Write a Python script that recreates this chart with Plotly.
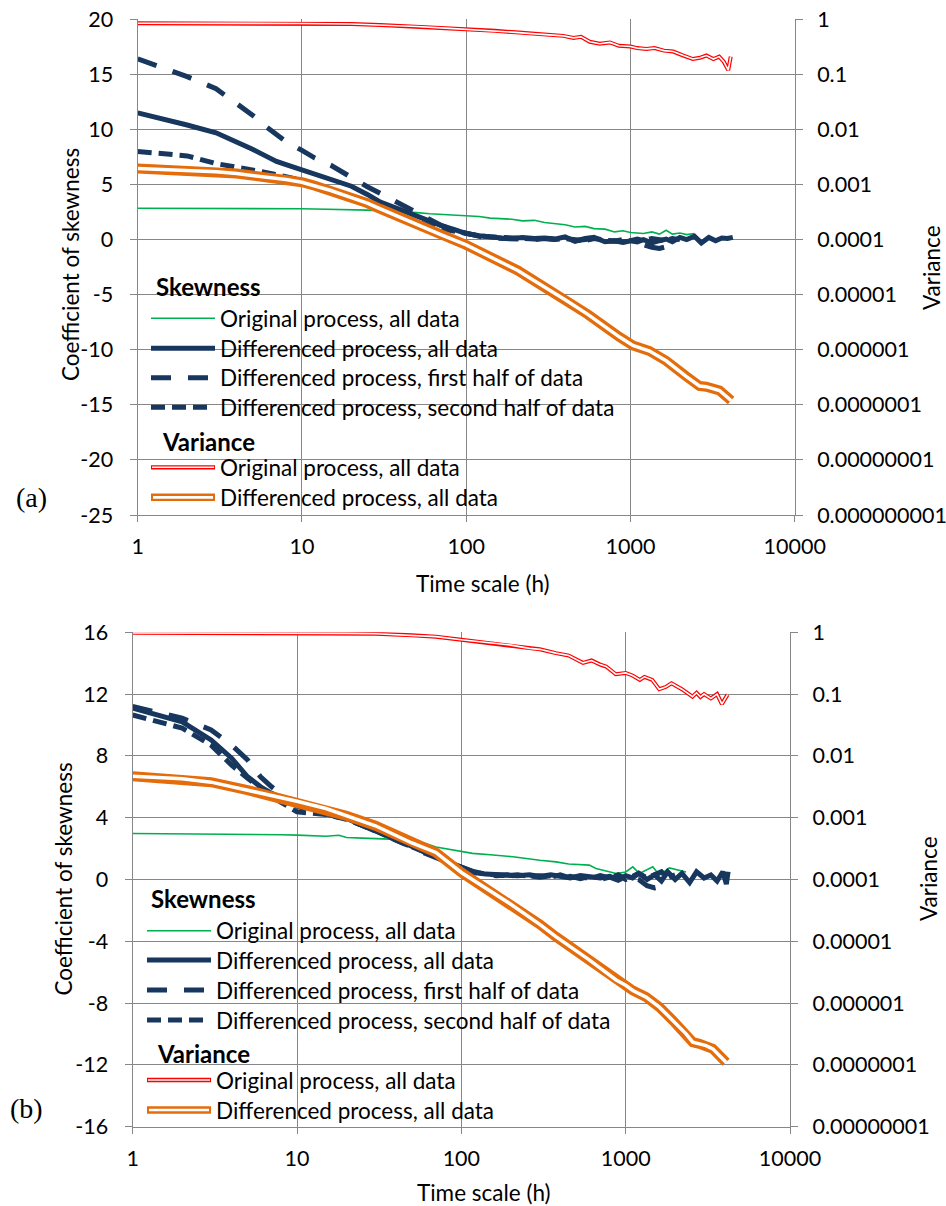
import plotly.graph_objects as go

W, H = 946, 1206

NAVY = "#17375E"
GREEN = "#00B050"
RED = "#FF0000"
ORANGE = "#E46C0A"
GRID = "#878787"
FONT = "Lato"

# ---------------- Panel (a) ----------------
# Skewness, original process, all data
a_green_x = [1, 1.5, 2, 3, 4, 5, 6, 7, 8, 10, 12, 15, 20, 25, 30, 40, 50, 60, 70, 85,
             100, 120, 140, 165, 190, 220, 260, 300, 350, 400, 460, 530, 600, 700, 800,
             900, 1000, 1100, 1200, 1350, 1500, 1650, 1800, 2000, 2200, 2450]
a_green_y = [2.85, 2.85, 2.84, 2.84, 2.83, 2.83, 2.82, 2.82, 2.81, 2.80, 2.78, 2.76, 2.72,
             2.68, 2.62, 2.55, 2.45, 2.35, 2.30, 2.25, 2.15, 2.10, 1.95, 1.90, 1.85, 1.70,
             1.75, 1.55, 1.45, 1.35, 1.15, 1.20, 1.00, 0.95, 0.70, 0.80, 0.65, 0.60, 0.55,
             0.70, 0.50, 0.85, 0.50, 0.60, 0.45, 0.55]

# Skewness, differenced process, all data
a_diff_x = [1, 1.5, 2, 3, 4, 5, 6, 7, 8, 10, 12, 15, 20, 25, 30, 40, 50, 60, 70, 85,
            100, 120, 140, 165, 190, 220, 260, 300, 350, 400, 460, 530, 600, 700, 800,
            900, 1000, 1100, 1200, 1350, 1500, 1650, 1800, 2000, 2200, 2450, 2700, 3000,
            3300, 3600, 3900, 4200]
a_diff_y = [11.5, 10.9, 10.4, 9.7, 8.9, 8.2, 7.6, 7.1, 6.8, 6.3, 5.9, 5.5, 4.85, 4.1, 3.4,
            2.7, 2.1, 1.65, 1.3, 0.9, 0.55, 0.35, 0.2, 0.15, 0.1, 0.2, 0.1, 0.15, 0.05,
            0.25, -0.15, 0.1, 0.2, -0.2, -0.1, -0.25, -0.1, -0.2, 0.0, -0.3, -0.1, 0.05,
            -0.2, 0.2, 0.0, 0.3, -0.3, 0.2, -0.1, 0.15, 0.1, 0.2]

# Skewness, differenced process, first half of data
a_first_x = [1, 1.5, 2, 3, 4, 5, 6, 7, 8, 10, 12, 15, 20, 25, 30, 40, 50, 60, 70, 85,
             100, 120, 140, 165, 190, 220, 260, 300, 350, 400, 460, 530, 600, 700, 800,
             900, 1000, 1100, 1200, 1350, 1500, 1650, 1800]
a_first_y = [16.4, 15.5, 14.8, 13.7, 12.4, 11.3, 10.3, 9.5, 8.9, 8.1, 7.4, 6.75, 5.6, 4.8,
             4.2, 3.2, 2.4, 1.8, 1.3, 0.85, 0.55, 0.3, 0.15, 0.1, 0.05, 0.1, 0.0, 0.1, 0.0,
             0.15, -0.1, 0.0, 0.1, -0.15, -0.1, -0.2, -0.15, -0.3, -0.5, -0.7, -0.8, -0.6,
             -0.5]

# Skewness, differenced process, second half of data
a_second_x = [1, 1.5, 2, 3, 4, 5, 6, 7, 8, 10, 12, 15, 20, 25, 30, 40, 50, 60, 70, 85,
              100, 120, 140, 165, 190, 220, 260, 300, 350, 400, 460, 530, 600, 700, 800,
              900, 1000, 1100, 1200, 1350, 1500, 1650, 1800, 2000]
a_second_y = [8.0, 7.8, 7.6, 6.9, 6.6, 6.3, 6.1, 5.9, 5.7, 5.4, 5.0, 4.4, 3.75, 3.1, 2.65,
              2.1, 1.6, 1.25, 1.0, 0.75, 0.55, 0.35, 0.25, 0.2, 0.1, 0.15, 0.05, 0.1, 0.0,
              0.1, 0.0, -0.1, 0.1, 0.0, -0.15, 0.0, -0.1, 0.05, -0.1, 0.1, 0.0, -0.1, 0.1,
              0.0]

# Variance, original process, all data
a_var_orig_x = [1, 3, 10, 20, 30, 50, 70, 100, 120, 150, 200, 250, 300, 390, 450, 500, 565,
                650, 750, 850, 1000, 1100, 1250, 1400, 1600, 1820, 2100, 2400, 2650, 2900,
                3200, 3470, 3700, 3940, 4080]
a_var_orig_y = [0.85, 0.85, 0.84, 0.82, 0.79, 0.74, 0.70, 0.66, 0.64, 0.62, 0.58, 0.55, 0.53,
                0.50, 0.46, 0.48, 0.39, 0.36, 0.38, 0.33, 0.32, 0.30, 0.29, 0.30, 0.27, 0.26,
                0.22, 0.19, 0.20, 0.22, 0.19, 0.21, 0.17, 0.12, 0.21]

# Variance, differenced process, all data
a_var_diff_x = [1, 2, 3, 4, 5, 6, 7, 8, 10, 12, 15, 20, 25, 30, 40, 50, 70, 100, 206, 405,
                550, 859, 1035, 1307, 1650, 2183, 2630, 2890, 3485, 4100]
a_var_diff_y = [1.95e-3, 1.82e-3, 1.70e-3, 1.58e-3, 1.46e-3, 1.38e-3, 1.29e-3, 1.23e-3,
                1.10e-3, 9.5e-4, 7.8e-4, 5.8e-4, 4.6e-4, 3.6e-4, 2.5e-4, 1.82e-4, 1.23e-4,
                8.0e-5, 2.75e-5, 7.9e-6, 4.4e-6, 1.70e-6, 1.20e-6, 9.5e-7, 6.3e-7, 3.3e-7,
                2.2e-7, 2.14e-7, 1.82e-7, 1.2e-7]

# ---------------- Panel (b) ----------------
b_green_x = [1, 1.5, 2, 3, 4, 5, 6, 7, 8, 10, 12, 15, 18, 20, 25, 30, 40, 50, 60, 70, 85,
             100, 117, 150, 206, 300, 377, 450, 600, 660, 876, 1000, 1105, 1213, 1462,
             1604, 1845, 2330]
b_green_y = [2.98, 2.97, 2.97, 2.96, 2.95, 2.94, 2.93, 2.92, 2.90, 2.87, 2.85, 2.80, 2.86,
             2.72, 2.68, 2.65, 2.60, 2.45, 2.35, 2.10, 1.95, 1.79, 1.69, 1.60, 1.47, 1.25,
             1.14, 1.00, 0.93, 0.71, 0.39, 0.49, 0.82, 0.39, 0.82, 0.28, 0.75, 0.49]

b_diff_x = [1, 1.5, 2, 3, 4, 5, 6, 7, 8, 10, 12, 15, 20, 25, 30, 40, 50, 60, 70, 85,
            100, 120, 140, 165, 190, 220, 260, 300, 350, 400, 460, 530, 600, 700, 800,
            900, 1000, 1100, 1200, 1350, 1500, 1650, 1800, 2000, 2200, 2450, 2700, 3000,
            3300, 3600, 3900, 4100, 4200]
b_diff_y = [11.09, 10.6, 10.2, 9.03, 7.85, 6.65, 6.0, 5.58, 5.3, 4.93, 4.7, 4.4, 3.95, 3.5,
            3.2, 2.6, 2.12, 1.75, 1.45, 1.1, 0.8, 0.5, 0.35, 0.3, 0.3, 0.25, 0.3, 0.2, 0.3,
            0.2, 0.1, 0.25, 0.15, 0.1, 0.2, 0.0, 0.25, 0.1, 0.4, 0.0, 0.3, -0.1, 0.5, 0.0,
            0.4, -0.2, 0.5, 0.1, 0.3, -0.1, 0.5, -0.3, 0.5]

b_first_x = [1, 1.5, 2, 3, 4, 5, 6, 7, 8, 10, 12, 15, 20, 25, 30, 40, 50, 60, 70, 85,
             100, 120, 140, 165, 190, 220, 260, 300, 350, 400, 460, 530, 600, 700, 800,
             900, 1000, 1100, 1200, 1350, 1500, 1650]
b_first_y = [11.2, 10.8, 10.44, 9.68, 8.7, 7.74, 6.65, 6.0, 5.5, 4.75, 4.5, 4.25, 3.9, 3.5,
             3.15, 2.55, 2.1, 1.7, 1.4, 1.05, 0.8, 0.45, 0.3, 0.25, 0.3, 0.2, 0.25, 0.15,
             0.25, 0.1, 0.2, 0.05, 0.2, 0.0, 0.15, -0.05, 0.2, 0.1, 0.0, -0.4, -0.55, -0.45]

b_second_x = [1, 1.5, 2, 3, 4, 5, 6, 7, 8, 10, 12, 15, 20, 25, 30, 40, 50, 60, 70, 85,
              100, 120, 140, 165, 190, 220, 260, 300, 350, 400, 460, 530, 600, 700, 800,
              900, 1000, 1100, 1200, 1350, 1500, 1650, 1800, 2000]
b_second_y = [10.65, 10.2, 9.8, 8.7, 7.4, 6.55, 5.9, 5.36, 5.0, 4.38, 4.3, 4.2, 3.9, 3.5,
              3.15, 2.55, 2.1, 1.72, 1.42, 1.08, 0.78, 0.45, 0.35, 0.3, 0.25, 0.3, 0.2, 0.25,
              0.15, 0.3, 0.1, 0.2, 0.05, 0.25, 0.1, 0.3, 0.0, 0.2, 0.4, 0.1, 0.3, 0.5, 0.1,
              0.3]

b_var_orig_x = [1, 3, 10, 20, 30, 50, 70, 100, 118, 200, 260, 300, 376, 450, 550, 620, 700,
                760, 870, 1000, 1100, 1220, 1300, 1450, 1600, 1750, 1900, 2200, 2550, 2700,
                2850, 3000, 3300, 3600, 3850, 4170]
b_var_orig_y = [0.98, 0.98, 0.97, 0.96, 0.95, 0.90, 0.85, 0.76, 0.72, 0.62, 0.55, 0.53,
                0.46, 0.42, 0.32, 0.35, 0.30, 0.28, 0.21, 0.22, 0.20, 0.17, 0.19, 0.17, 0.12,
                0.13, 0.15, 0.12, 0.091, 0.105, 0.09, 0.10, 0.085, 0.10, 0.069, 0.098]

b_var_diff_x = [1, 2, 3, 5, 7, 10, 15, 20, 30, 50, 70, 100, 200, 300, 376, 600, 875, 1000,
                1105, 1331, 1604, 1935, 2330, 2560, 2810, 3085, 3390, 3720, 4080]
b_var_diff_y = [4.68e-3, 4.27e-3, 3.76e-3, 2.80e-3, 2.24e-3, 1.85e-3, 1.41e-3, 1.07e-3,
                7.4e-4, 3.9e-4, 2.74e-4, 1.30e-4, 3.98e-5, 1.88e-5, 1.19e-5, 5.0e-6,
                2.37e-6, 1.94e-6, 1.60e-6, 1.25e-6, 8.6e-7, 5.25e-7, 3.18e-7, 2.33e-7,
                2.19e-7, 2.05e-7, 1.82e-7, 1.42e-7, 1.10e-7]

# Axis tick labels
x_ticks = [1, 10, 100, 1000, 10000]
x_ticktext = ["1", "10", "100", "1000", "10000"]
a_skew_ticks = [-25, -20, -15, -10, -5, 0, 5, 10, 15, 20]
a_var_ticks = [1e-9, 1e-8, 1e-7, 1e-6, 1e-5, 1e-4, 1e-3, 1e-2, 1e-1, 1]
a_var_text = ["0.000000001", "0.00000001", "0.0000001", "0.000001", "0.00001",
              "0.0001", "0.001", "0.01", "0.1", "1"]
b_skew_ticks = [-16, -12, -8, -4, 0, 4, 8, 12, 16]
b_var_ticks = [1e-8, 1e-7, 1e-6, 1e-5, 1e-4, 1e-3, 1e-2, 1e-1, 1]
b_var_text = ["0.00000001", "0.0000001", "0.000001", "0.00001", "0.0001", "0.001",
              "0.01", "0.1", "1"]

legend_labels = ["Original process, all data", "Differenced process, all data",
                 "Differenced process, first half of data",
                 "Differenced process, second half of data",
                 "Original process, all data", "Differenced process, all data"]

LONG_DASH = "20px,17px"
SHORT_DASH = "14px,7px"
TEXT_SIZE = 22.5
TICK_SIZE = 21.5


def px_x(p):
    return p / W


def px_y(p):
    return 1 - p / H


fig = go.Figure()


def add_line(x, y, xa, ya, color, width, dash="solid"):
    fig.add_trace(go.Scatter(x=x, y=y, xaxis=xa, yaxis=ya, mode="lines",
                             line=dict(color=color, width=width, dash=dash),
                             showlegend=False, hoverinfo="skip"))


def add_double(x, y, xa, ya, color, outer, inner):
    add_line(x, y, xa, ya, color, outer)
    add_line(x, y, xa, ya, "white", inner)


# Panel (a) traces
add_line(a_green_x, a_green_y, "x", "y", GREEN, 1.6)
add_line(a_diff_x, a_diff_y, "x", "y", NAVY, 5)
add_line(a_first_x, a_first_y, "x", "y", NAVY, 5, LONG_DASH)
add_line(a_second_x, a_second_y, "x", "y", NAVY, 5, SHORT_DASH)
add_double(a_var_orig_x, a_var_orig_y, "x", "y2", RED, 4, 1.6)
add_double(a_var_diff_x, a_var_diff_y, "x", "y2", ORANGE, 10, 3.5)

# Panel (b) traces
add_line(b_green_x, b_green_y, "x2", "y3", GREEN, 1.6)
add_line(b_diff_x, b_diff_y, "x2", "y3", NAVY, 5)
add_line(b_first_x, b_first_y, "x2", "y3", NAVY, 5, LONG_DASH)
add_line(b_second_x, b_second_y, "x2", "y3", NAVY, 5, SHORT_DASH)
add_double(b_var_orig_x, b_var_orig_y, "x2", "y4", RED, 4, 1.6)
add_double(b_var_diff_x, b_var_diff_y, "x2", "y4", ORANGE, 10, 3.5)

tick_font = dict(family=FONT, size=TICK_SIZE, color="black")

common_x = dict(type="log", range=[0, 4], tickvals=x_ticks, ticktext=x_ticktext,
                showgrid=True, gridcolor=GRID, gridwidth=1.3, showline=True,
                linecolor=GRID, linewidth=1.3, ticks="outside", ticklen=6,
                tickcolor=GRID, tickwidth=1.3, tickfont=tick_font, zeroline=False,
                ticklabelstandoff=6, automargin=False)
common_left = dict(showgrid=True, gridcolor=GRID, gridwidth=1.3, showline=True,
                   linecolor=GRID, linewidth=1.3, ticks="outside", ticklen=7,
                   tickcolor=GRID, tickwidth=1.3, tickfont=tick_font, zeroline=False,
                   ticklabelstandoff=12, automargin=False)
common_right = dict(type="log", side="right", showgrid=False, showline=True,
                    linecolor=GRID, linewidth=1.3, ticks="outside", ticklen=7,
                    tickcolor=GRID, tickwidth=1.3, tickfont=tick_font, zeroline=False,
                    ticklabelstandoff=10, automargin=False)

xa_dom = [px_x(137.7), px_x(794.7)]
ya_dom = [px_y(515), px_y(19.3)]
xb_dom = [px_x(132.7), px_x(790)]
yb_dom = [px_y(1126.7), px_y(632.3)]

fig.update_layout(
    width=W, height=H, margin=dict(l=0, r=0, t=0, b=0, autoexpand=False),
    paper_bgcolor="white", plot_bgcolor="white", showlegend=False,
    xaxis=dict(domain=xa_dom, anchor="y", **common_x),
    yaxis=dict(domain=ya_dom, anchor="x", range=[-25, 20], tickvals=a_skew_ticks,
               ticktext=[str(v) for v in a_skew_ticks], **common_left),
    yaxis2=dict(overlaying="y", anchor="x", range=[-9, 0], tickvals=a_var_ticks,
                ticktext=a_var_text, **common_right),
    xaxis2=dict(domain=xb_dom, anchor="y3", **common_x),
    yaxis3=dict(domain=yb_dom, anchor="x2", range=[-16, 16], tickvals=b_skew_ticks,
                ticktext=[str(v) for v in b_skew_ticks], **common_left),
    yaxis4=dict(overlaying="y3", anchor="x2", range=[-8, 0], tickvals=b_var_ticks,
                ticktext=b_var_text, **common_right),
)

annotations = []
shapes = []


def text(px, py, s, size=TEXT_SIZE, bold=False, angle=0, xanchor="center", family=FONT):
    annotations.append(dict(x=px_x(px), y=px_y(py), xref="paper", yref="paper",
                            text=f"<b>{s}</b>" if bold else s, showarrow=False,
                            textangle=angle, xanchor=xanchor, yanchor="middle",
                            borderpad=0,
                            font=dict(family=family, size=size, color="black")))


def seg(x0, x1, py, color, width, dash="solid"):
    shapes.append(dict(type="line", xref="paper", yref="paper",
                       x0=px_x(x0), x1=px_x(x1), y0=px_y(py), y1=px_y(py),
                       line=dict(color=color, width=width, dash=dash)))


# Axis titles
text(483, 583, "Time scale (h)")
text(70, 265, "Coefficient of skewness", angle=-90)
text(931, 268, "Variance", angle=-90)
text(484, 1192, "Time scale (h)")
text(62.5, 879, "Coefficient of skewness", angle=-90)
text(928, 879, "Variance", angle=-90)

# Panel labels
text(31, 497, "(a)", size=28, family="Liberation Serif")
text(26, 1108, "(b)", size=28, family="Liberation Serif")


def legend(x_line0, x_text, y_skew, y_rows, y_var, y_vrows, x_skew, x_var):
    x_line1 = x_line0 + 64
    text(x_skew, y_skew, "Skewness", size=24, bold=True, xanchor="left")
    seg(x_line0, x_line1, y_rows[0], GREEN, 1.6)
    seg(x_line0, x_line1, y_rows[1], NAVY, 5)
    seg(x_line0, x_line0 + 64, y_rows[2], NAVY, 5, LONG_DASH)
    seg(x_line0, x_line0 + 62, y_rows[3], NAVY, 5, SHORT_DASH)
    text(x_var, y_var, "Variance", size=24, bold=True, xanchor="left")
    seg(x_line0, x_line1, y_vrows[0], RED, 4.3)
    seg(x_line0 + 1, x_line1 - 1, y_vrows[0], "white", 1.4)
    seg(x_line0, x_line1, y_vrows[1], ORANGE, 7.5)
    seg(x_line0 + 2, x_line1 - 2, y_vrows[1], "white", 2.7)
    rows = list(y_rows) + list(y_vrows)
    for yy, lab in zip(rows, legend_labels):
        text(x_text, yy, lab, xanchor="left")


legend(151, 219, 286, [318.3, 348.3, 377.7, 407.3], 441.7, [467.3, 497.3], 155, 161)
legend(147, 215, 898, [930.7, 960, 990, 1020], 1053, [1080, 1110], 150, 156)

fig.update_layout(annotations=annotations, shapes=shapes)

fig.write_html("out.html")
